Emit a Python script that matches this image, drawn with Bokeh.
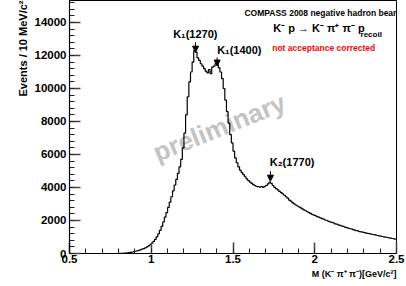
import math
from bokeh.plotting import figure
from bokeh.models import Label, Arrow, NormalHead, Range1d, SingleIntervalTicker, Title
from bokeh.core.properties import value
from bokeh.embed import file_html
from bokeh.resources import INLINE

# ---- data: K- pi+ pi- invariant mass histogram, 10 MeV bins from 0.5 GeV ----
bin_start = 0.5
bin_width = 0.01
counts = [
    0, 0, 0, 0, 0, 0, 0, 0, 0, 0,
    0, 0, 0, 0, 0, 0, 0, 0, 0, 0,
    0, 0, 0, 0, 0, 0, 0, 0, 0, 0,
    5, 10, 15, 25, 30, 40, 55, 70, 90, 110,
    135, 160, 195, 225, 260, 300, 345, 400, 460, 530,
    620, 730, 860, 1010, 1190, 1400, 1640, 1910, 2200, 2480,
    2790, 3110, 3440, 3800, 4150, 4490, 4860, 5250, 5700, 6400,
    7300, 8400, 9500, 10400, 11000, 11600, 12300, 12200, 11850, 11700,
    11500, 11350, 11200, 11050, 10950, 11150, 10900, 11300, 11350, 11500,
    11450, 11250, 11000, 10600, 10000, 9300, 8600, 7900, 7200, 6700,
    6200, 5800, 5500, 5250, 5050, 4900, 4780, 4650, 4520, 4420,
    4330, 4250, 4170, 4120, 4060, 4050, 4020, 4060, 4010, 4070,
    4120, 4220, 4320, 4250, 4120, 4010, 3930, 3850, 3760, 3690,
    3610, 3530, 3440, 3350, 3240, 3170, 3080, 3010, 2940, 2880,
    2820, 2760, 2700, 2640, 2590, 2530, 2480, 2430, 2370, 2330,
    2290, 2240, 2200, 2160, 2110, 2080, 2030, 2000, 1950, 1920,
    1880, 1850, 1800, 1780, 1740, 1700, 1670, 1640, 1600, 1570,
    1540, 1500, 1490, 1450, 1420, 1390, 1370, 1330, 1310, 1290,
    1270, 1240, 1220, 1200, 1180, 1150, 1140, 1110, 1090, 1070,
    1050, 1030, 1010, 990, 970, 950, 930, 910, 890, 870,
]
x_tick_labels = {0.5: "0.5", 1: "1", 1.5: "1.5", 2: "2", 2.5: "2.5"}

# resonance markers: name, label position, arrow x
res_names = ["K\u2081(1270)", "K\u2081(1400)", "K\u2082(1770)"]
res_label_x = [1.134, 1.403, 1.725]
res_label_y = [13315, 12345, 5530]
res_arrow_x = [1.271, 1.403, 1.729]
res_arrow_top = [12800, 11880, 4990]
res_arrow_bottom = [12200, 11360, 4380]

edges = [round(bin_start + i * bin_width, 4) for i in range(len(counts) + 1)]
step_y = counts + [counts[-1]]

FONT = "Liberation Sans"

p = figure(
    frame_width=327, frame_height=253,
    x_range=Range1d(0.5, 2.5), y_range=Range1d(0, 15333),
    output_backend="svg", toolbar_location=None,
    min_border_left=69, min_border_right=10, min_border_top=0, min_border_bottom=33,
)
p.background_fill_color = "white"
p.border_fill_color = "white"
p.outline_line_color = "black"
p.outline_line_width = 1
p.xgrid.visible = False
p.ygrid.visible = False

for ax in (p.xaxis[0], p.yaxis[0]):
    ax.axis_line_color = "black"
    ax.axis_line_width = 1.2
    ax.major_tick_in = 11
    ax.major_tick_out = 0
    ax.minor_tick_in = 5
    ax.minor_tick_out = 0
    ax.major_tick_line_color = "#444444"
    ax.minor_tick_line_color = "#222222"
    ax.major_tick_line_width = 1.5
    ax.minor_tick_line_width = 1
    ax.major_label_text_font = FONT
    ax.major_label_text_font_style = "bold"
    ax.major_label_text_font_size = "11.5px"
    ax.major_label_text_color = "black"

p.xaxis.ticker = SingleIntervalTicker(interval=0.5, num_minor_ticks=5)
p.yaxis.ticker = SingleIntervalTicker(interval=2000, num_minor_ticks=5)
p.xaxis.major_label_overrides = x_tick_labels
p.xaxis.major_label_standoff = 1
p.yaxis.major_label_standoff = 3

# axis titles (ROOT style: aligned to the far end of each axis)
p.add_layout(Title(text="Events / 10 MeV/c\u00b2", align="right",
                   text_font=FONT, text_font_style="bold", text_font_size="11px",
                   text_color="black", standoff=6), "left")
p.add_layout(Title(text="M (K\u207b \u03c0\u207a \u03c0\u207b)[GeV/c\u00b2]", align="right",
                   text_font=FONT, text_font_style="bold", text_font_size="9px",
                   text_color="black", standoff=2), "below")

# watermark
p.text(x=[1.417], y=[7640], text=["preliminary"], angle=0.384,
       text_font=value(FONT), text_font_style="bold", text_font_size="26px",
       text_color="#c3c3c3", text_align="center", text_baseline="middle")

# histogram
p.step(x=edges, y=step_y, mode="after", line_color="black", line_width=1.2)

# resonance labels and arrows
p.text(x=res_label_x, y=res_label_y, text=res_names,
       text_font=value(FONT), text_font_style="bold", text_font_size="11px",
       text_color="black", text_align="left", text_baseline="middle")
for xa, yt, yb in zip(res_arrow_x, res_arrow_top, res_arrow_bottom):
    p.add_layout(Arrow(end=NormalHead(size=6, fill_color="black", line_color="black"),
                       x_start=xa, y_start=yt, x_end=xa, y_end=yb,
                       line_color="black", line_width=1))

# header texts
p.add_layout(Label(x=1.570, y=14590, text="COMPASS 2008 negative hadron beam",
                   text_font=FONT, text_font_style="bold", text_font_size="8.5px",
                   text_color="black", text_align="left", text_baseline="middle"))
p.add_layout(Label(x=1.746, y=13650, text="K\u207b p \u2192 K\u207b \u03c0\u207a \u03c0\u207b p",
                   text_font=FONT, text_font_style="bold", text_font_size="11px",
                   text_color="black", text_align="left", text_baseline="middle"))
p.add_layout(Label(x=2.280, y=13270, text="recoil",
                   text_font=FONT, text_font_style="bold", text_font_size="8px",
                   text_color="black", text_align="left", text_baseline="middle"))
p.add_layout(Label(x=1.740, y=12470, text="not acceptance corrected",
                   text_font=FONT, text_font_style="bold", text_font_size="8.5px",
                   text_color="#ff0000", text_align="left", text_baseline="middle"))

open("out.html", "w").write(file_html(p, INLINE))
